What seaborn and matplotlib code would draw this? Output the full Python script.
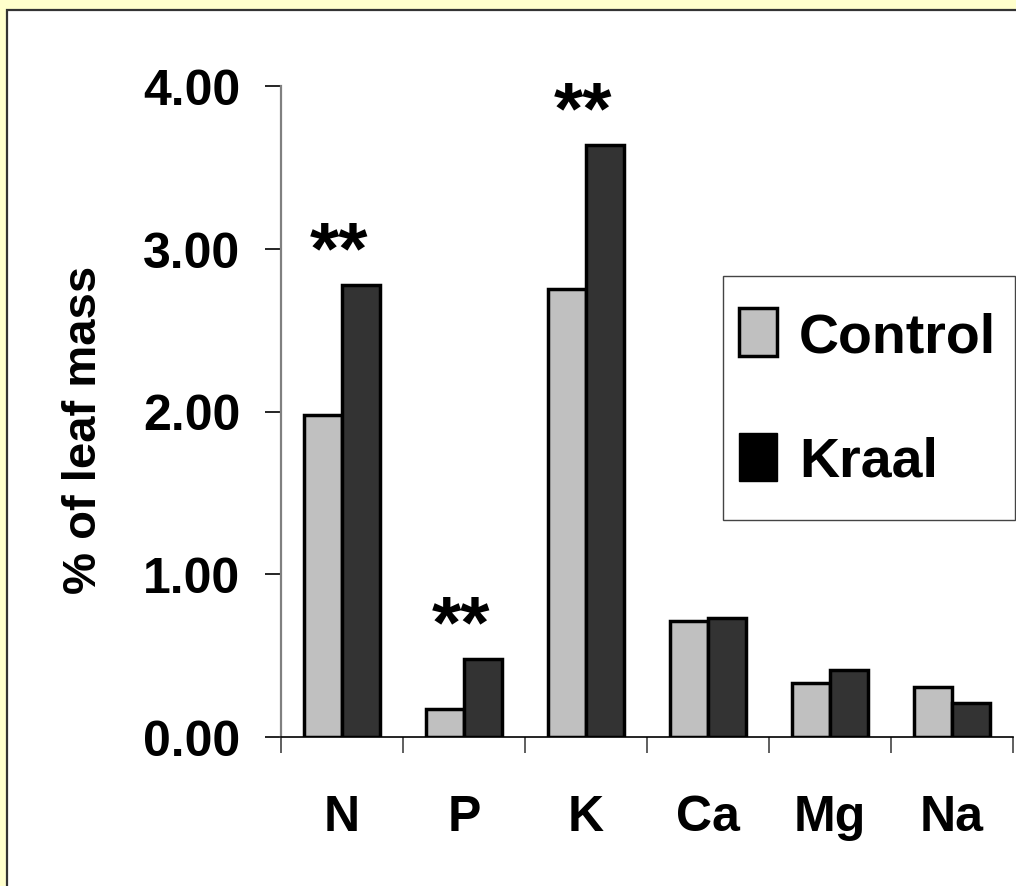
import numpy as np
import pandas as pd
import matplotlib
matplotlib.use("Agg")
import matplotlib.pyplot as plt
from matplotlib.patches import Patch, Rectangle
from matplotlib.legend_handler import HandlerPatch
import seaborn as sns

# valores
elementos = ["N", "P", "K", "Ca", "Mg", "Na"]
controle = [1.98, 0.17, 2.75, 0.71, 0.33, 0.31]
kraal = [2.78, 0.48, 3.64, 0.73, 0.41, 0.21]
signif = ["**", "**", "**", "", "", ""]
grupos = ["Control", "Kraal"]

df = pd.DataFrame({
    "elemento": elementos * 2,
    "grupo": [grupos[0]] * len(elementos) + [grupos[1]] * len(elementos),
    "valor": controle + kraal,
})

sns.set_style("white")
plt.rcParams["font.family"] = ["Liberation Sans", "DejaVu Sans"]
plt.rcParams["font.weight"] = "bold"
for k in ["text.color", "axes.labelcolor", "xtick.color", "ytick.color"]:
    plt.rcParams[k] = "black"

tam_leg = 40
px = tam_leg * 100 / 72  # tamanho da fonte da legenda em pixels


def caixa_legenda(legend, orig_handle, xdescent, ydescent, width, height, fontsize):
    # desloca o quadradinho um pouco para a esquerda
    return Rectangle((-xdescent - 12, -ydescent), width, height)


fig = plt.figure(figsize=(10.16, 8.87), dpi=100, facecolor="#FFFFCC")

# painel branco com borda
painel = Rectangle((6.5 / 1016, -0.05), 1.1, (887 - 10.5) / 887 + 0.05,
                   transform=fig.transFigure, facecolor="white",
                   edgecolor="#333333", linewidth=1.6, zorder=-5)
fig.patches.append(painel)

ax = fig.add_axes([281 / 1016, 149 / 887, 732 / 1016, 651 / 887])
ax.set_zorder(2)
ax.set_facecolor("none")

sns.barplot(data=df, x="elemento", y="valor", hue="grupo", order=elementos,
            hue_order=grupos, palette=["#C0C0C0", "#333333"], width=0.615,
            edgecolor="black", linewidth=2.5, saturation=1, ax=ax, legend=False)

ax.set_xlim(-0.5, len(elementos) - 0.5)
ax.set_ylim(0, 4)
ax.set_yticks([0, 1, 2, 3, 4])
ax.set_yticklabels([f"{v:.2f}" for v in [0, 1, 2, 3, 4]], fontsize=36, fontweight="bold")
ax.tick_params(axis="y", length=11.5, width=1.2, color="black", pad=18, left=True)

ax.set_xticks(range(len(elementos)))
ax.set_xticklabels(elementos, fontsize=36, fontweight="bold")
ax.set_xticks(np.arange(-0.5, len(elementos)), minor=True)
ax.tick_params(axis="x", which="major", length=0, pad=41)
ax.tick_params(axis="x", which="minor", length=11.5, width=1.2, color="#444444", bottom=True)
ax.set_xlabel("")
ax.set_ylabel("")

for s in ["top", "right"]:
    ax.spines[s].set_visible(False)
ax.spines["left"].set_color("#808080")
ax.spines["left"].set_linewidth(1.6)
ax.spines["bottom"].set_color("black")
ax.spines["bottom"].set_linewidth(1.2)

for i, txt in enumerate(signif):
    if txt:
        ax.annotate(txt, (i, kraal[i]), xytext=(-2, 9), textcoords="offset points",
                    ha="center", va="baseline", fontsize=54, fontweight="bold")

fig.text(84 / 1016, 1 - 430 / 887, "% of leaf mass", rotation=90, ha="center",
         va="center", fontsize=34, fontweight="bold", zorder=3)

handles = [Patch(facecolor="#C0C0C0", edgecolor="black", linewidth=2.5, label="Control"),
           Patch(facecolor="black", edgecolor="black", linewidth=1, label="Kraal")]
leg = ax.legend(handles=handles, loc="upper left",
                bbox_to_anchor=(0.604, 0.327, 0.399, 0.381), mode="expand",
                frameon=True, fancybox=False, framealpha=1, edgecolor="#444444",
                prop={"family": "Liberation Sans", "weight": "bold", "size": tam_leg},
                handlelength=38 / px, handleheight=52 / px,
                handler_map={Patch: HandlerPatch(patch_func=caixa_legenda)},
                handletextpad=0.1, labelspacing=1.26, borderpad=0.58, borderaxespad=0)
leg.get_frame().set_linewidth(1.0)

fig.savefig("out.png", dpi=100, facecolor=fig.get_facecolor())
